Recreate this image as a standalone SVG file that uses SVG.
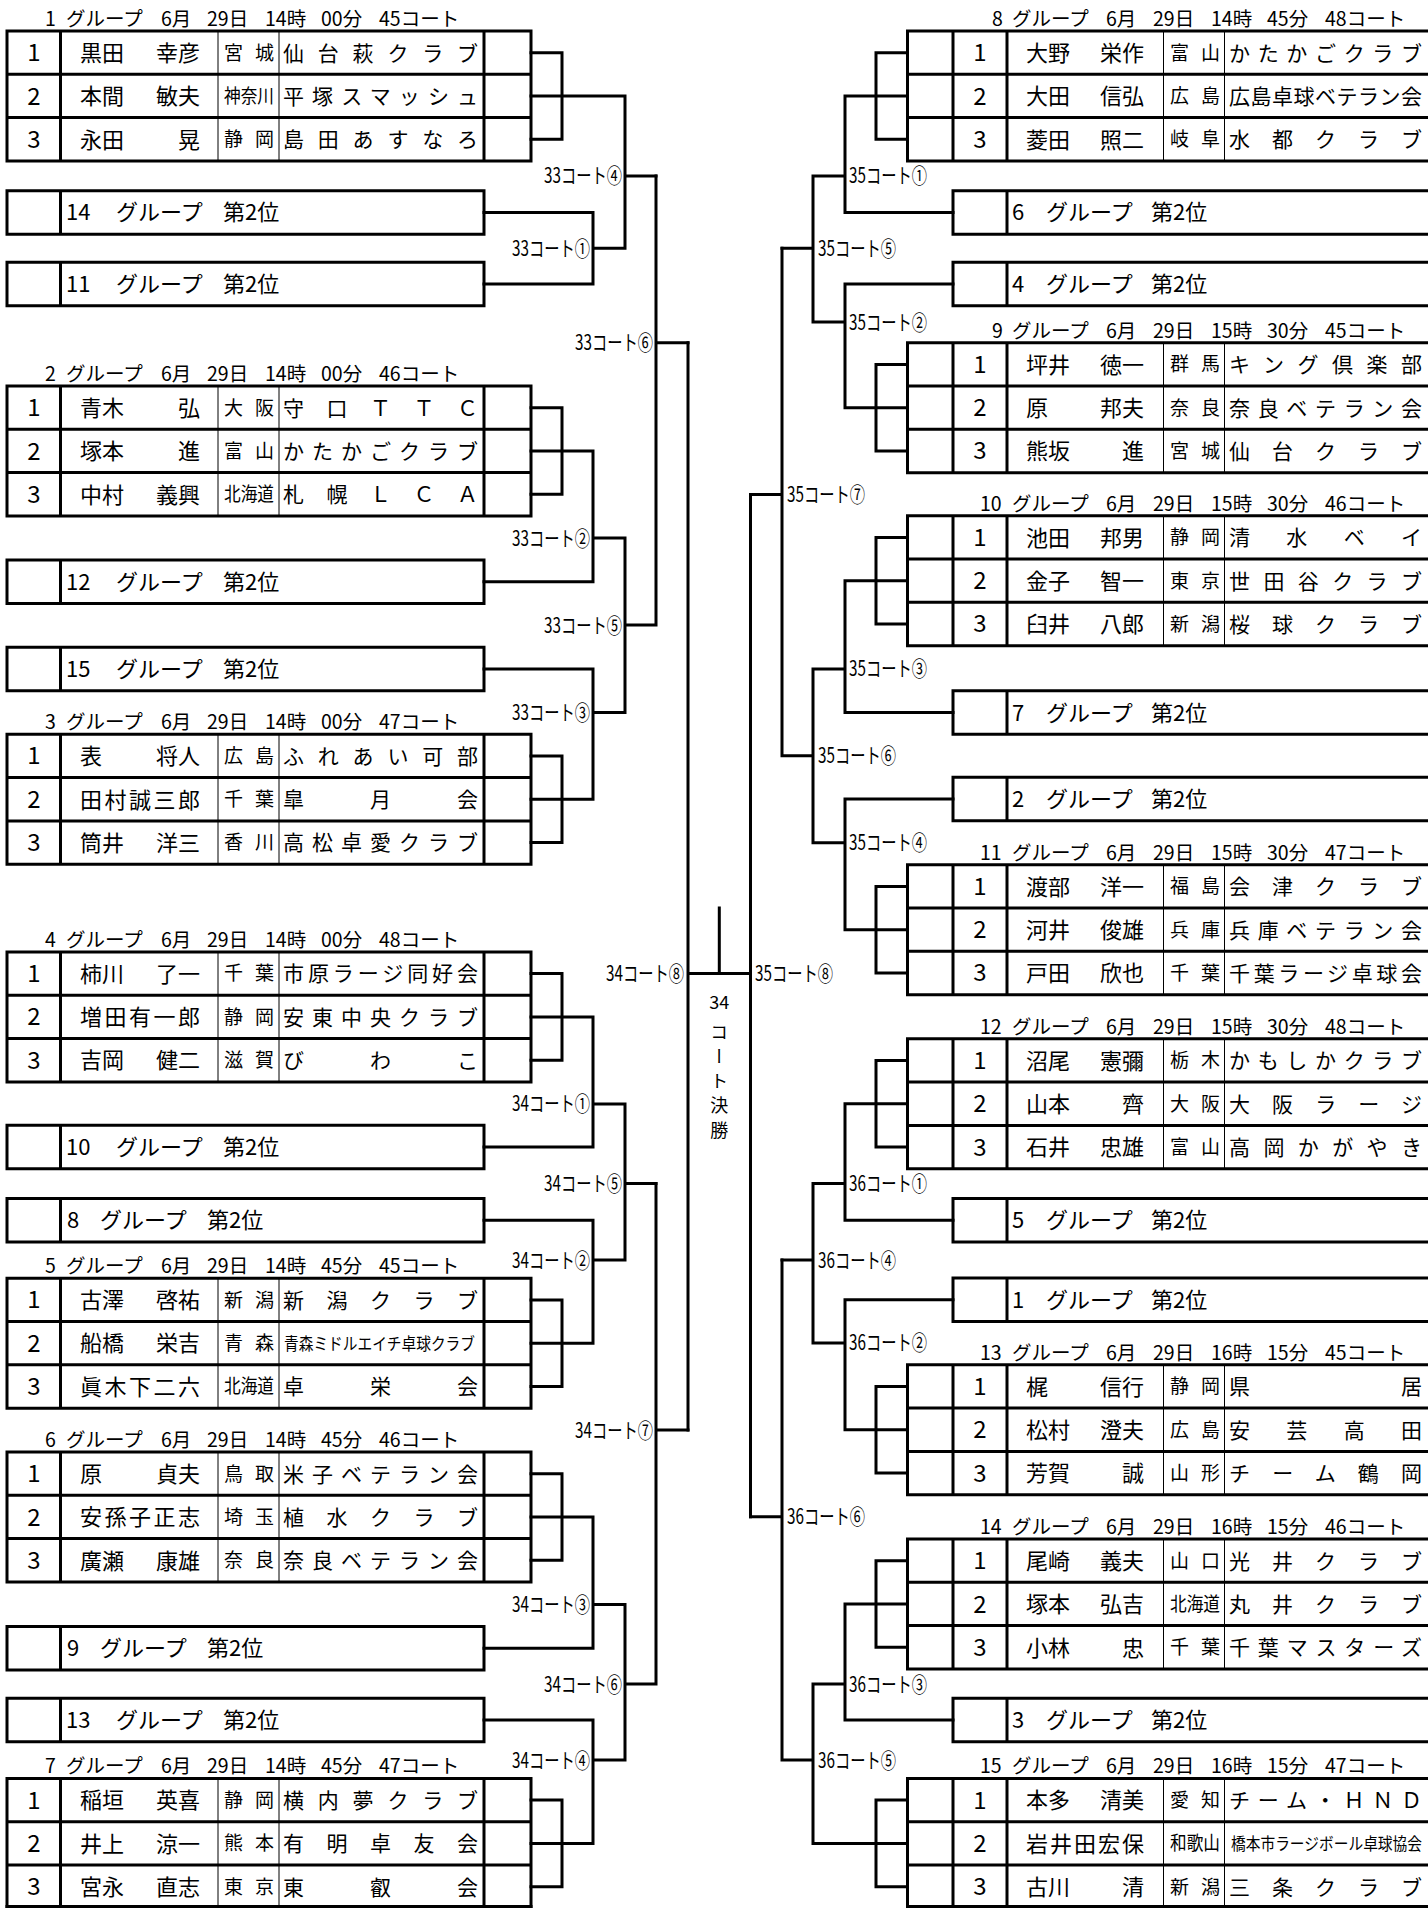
<svg xmlns="http://www.w3.org/2000/svg" width="1428" height="1908" viewBox="0 0 1428 1908">
<style>
.tk{fill:none;stroke:#000;stroke-width:3;stroke-linecap:square}
.tn{fill:none;stroke:#000;stroke-width:1}
#connectors path{fill:none;stroke:#000;stroke-width:3;stroke-linecap:square;stroke-linejoin:miter}
text{font-family:"Noto Sans CJK JP","Noto Sans",sans-serif;fill:#000}
.no{font-size:24px;text-anchor:middle}
.nm{font-size:22px}
.e{text-anchor:end}
.pf{font-size:19px}
.cl{font-size:21px}
.sm{font-size:17px}
.hd{font-size:19.5px}
.bx{font-size:22px}
.lb{font-size:21px}
.fin{font-size:18px}
</style>
<defs>
<g id="tl"><path class="tk" d="M7 0H531M7 43.3H531M7 86.6H531M7 130H531M7 0V130M60.5 0V130M484 0V130M531 0V130"/><path class="tn" d="M218 0V130M279 0V130"/></g>
<g id="tr"><path class="tk" d="M907.5 0H1440M907.5 43.3H1440M907.5 86.6H1440M907.5 130H1440M907.5 0V130M953 0V130M1007 0V130"/><path class="tn" d="M1163.5 0V130M1224.5 0V130"/></g>
<path id="bl" class="tk" d="M7 0H484V43.5H7ZM60.5 0V43.5"/>
<path id="br" class="tk" d="M953 0H1440M953 43.5H1440M953 0V43.5M1007 0V43.5"/>
</defs>
<rect width="1428" height="1908" fill="#fff"/>

<!-- LEFT GROUPS -->
<g id="group1" transform="translate(0,31)">
<use href="#tl"/>
<text class="hd" y="-5"><tspan x="45">1</tspan><tspan x="66">グループ</tspan><tspan x="161">6月</tspan><tspan x="207">29日</tspan><tspan x="265">14時</tspan><tspan x="321">00分</tspan><tspan x="379">45コート</tspan></text>
<text class="no" x="33.8" y="30.2">1</text><text class="nm" x="80" y="30">黒田</text><text class="nm e" x="200" y="30">幸彦</text><text class="pf" x="224" y="28.6" textLength="50">宮城</text><text class="cl" x="283" y="29.6" textLength="195">仙台萩クラブ</text>
<text class="no" x="33.8" y="73.5">2</text><text class="nm" x="80" y="73.3">本間</text><text class="nm e" x="200" y="73.3">敏夫</text><text class="pf" x="224" y="71.9" textLength="50" lengthAdjust="spacingAndGlyphs">神奈川</text><text class="cl" x="283" y="72.9" textLength="195">平塚スマッシュ</text>
<text class="no" x="33.8" y="116.8">3</text><text class="nm" x="80" y="116.6">永田</text><text class="nm e" x="200" y="116.6">晃</text><text class="pf" x="224" y="115.2" textLength="50">静岡</text><text class="cl" x="283" y="116.2" textLength="195">島田あすなろ</text>
</g>
<g id="box14" transform="translate(0,190.7)"><use href="#bl"/><text class="bx" y="29.8"><tspan x="66">14</tspan><tspan x="116">グループ</tspan><tspan x="223">第2位</tspan></text></g>
<g id="box11" transform="translate(0,262.2)"><use href="#bl"/><text class="bx" y="29.8"><tspan x="66">11</tspan><tspan x="116">グループ</tspan><tspan x="223">第2位</tspan></text></g>

<g id="group2" transform="translate(0,386)">
<use href="#tl"/>
<text class="hd" y="-5"><tspan x="45">2</tspan><tspan x="66">グループ</tspan><tspan x="161">6月</tspan><tspan x="207">29日</tspan><tspan x="265">14時</tspan><tspan x="321">00分</tspan><tspan x="379">46コート</tspan></text>
<text class="no" x="33.8" y="30.2">1</text><text class="nm" x="80" y="30">青木</text><text class="nm e" x="200" y="30">弘</text><text class="pf" x="224" y="28.6" textLength="50">大阪</text><text class="cl" x="283" y="29.6" textLength="195">守口ＴＴＣ</text>
<text class="no" x="33.8" y="73.5">2</text><text class="nm" x="80" y="73.3">塚本</text><text class="nm e" x="200" y="73.3">進</text><text class="pf" x="224" y="71.9" textLength="50">富山</text><text class="cl" x="283" y="72.9" textLength="195">かたかごクラブ</text>
<text class="no" x="33.8" y="116.8">3</text><text class="nm" x="80" y="116.6">中村</text><text class="nm e" x="200" y="116.6">義興</text><text class="pf" x="224" y="115.2" textLength="50" lengthAdjust="spacingAndGlyphs">北海道</text><text class="cl" x="283" y="116.2" textLength="195">札幌ＬＣＡ</text>
</g>
<g id="box12" transform="translate(0,560)"><use href="#bl"/><text class="bx" y="29.8"><tspan x="66">12</tspan><tspan x="116">グループ</tspan><tspan x="223">第2位</tspan></text></g>
<g id="box15" transform="translate(0,647.2)"><use href="#bl"/><text class="bx" y="29.8"><tspan x="66">15</tspan><tspan x="116">グループ</tspan><tspan x="223">第2位</tspan></text></g>

<g id="group3" transform="translate(0,734.3)">
<use href="#tl"/>
<text class="hd" y="-5"><tspan x="45">3</tspan><tspan x="66">グループ</tspan><tspan x="161">6月</tspan><tspan x="207">29日</tspan><tspan x="265">14時</tspan><tspan x="321">00分</tspan><tspan x="379">47コート</tspan></text>
<text class="no" x="33.8" y="30.2">1</text><text class="nm" x="80" y="30">表</text><text class="nm e" x="200" y="30">将人</text><text class="pf" x="224" y="28.6" textLength="50">広島</text><text class="cl" x="283" y="29.6" textLength="195">ふれあい可部</text>
<text class="no" x="33.8" y="73.5">2</text><text class="nm" x="80" y="73.3" textLength="120">田村誠三郎</text><text class="pf" x="224" y="71.9" textLength="50">千葉</text><text class="cl" x="283" y="72.9" textLength="195">皐月会</text>
<text class="no" x="33.8" y="116.8">3</text><text class="nm" x="80" y="116.6">筒井</text><text class="nm e" x="200" y="116.6">洋三</text><text class="pf" x="224" y="115.2" textLength="50">香川</text><text class="cl" x="283" y="116.2" textLength="195">高松卓愛クラブ</text>
</g>

<g id="group4" transform="translate(0,951.9)">
<use href="#tl"/>
<text class="hd" y="-5"><tspan x="45">4</tspan><tspan x="66">グループ</tspan><tspan x="161">6月</tspan><tspan x="207">29日</tspan><tspan x="265">14時</tspan><tspan x="321">00分</tspan><tspan x="379">48コート</tspan></text>
<text class="no" x="33.8" y="30.2">1</text><text class="nm" x="80" y="30">柿川</text><text class="nm e" x="200" y="30">了一</text><text class="pf" x="224" y="28.6" textLength="50">千葉</text><text class="cl" x="283" y="29.6" textLength="195">市原ラージ同好会</text>
<text class="no" x="33.8" y="73.5">2</text><text class="nm" x="80" y="73.3" textLength="120">増田有一郎</text><text class="pf" x="224" y="71.9" textLength="50">静岡</text><text class="cl" x="283" y="72.9" textLength="195">安東中央クラブ</text>
<text class="no" x="33.8" y="116.8">3</text><text class="nm" x="80" y="116.6">吉岡</text><text class="nm e" x="200" y="116.6">健二</text><text class="pf" x="224" y="115.2" textLength="50">滋賀</text><text class="cl" x="283" y="116.2" textLength="195">びわこ</text>
</g>
<g id="box10" transform="translate(0,1125.3)"><use href="#bl"/><text class="bx" y="29.8"><tspan x="66">10</tspan><tspan x="116">グループ</tspan><tspan x="223">第2位</tspan></text></g>
<g id="box8" transform="translate(0,1198.5)"><use href="#bl"/><text class="bx" y="29.8"><tspan x="67">8</tspan><tspan x="100">グループ</tspan><tspan x="207">第2位</tspan></text></g>

<g id="group5" transform="translate(0,1278.2)">
<use href="#tl"/>
<text class="hd" y="-5"><tspan x="45">5</tspan><tspan x="66">グループ</tspan><tspan x="161">6月</tspan><tspan x="207">29日</tspan><tspan x="265">14時</tspan><tspan x="321">45分</tspan><tspan x="379">45コート</tspan></text>
<text class="no" x="33.8" y="30.2">1</text><text class="nm" x="80" y="30">古澤</text><text class="nm e" x="200" y="30">啓祐</text><text class="pf" x="224" y="28.6" textLength="50">新潟</text><text class="cl" x="283" y="29.6" textLength="195">新潟クラブ</text>
<text class="no" x="33.8" y="73.5">2</text><text class="nm" x="80" y="73.3">船橋</text><text class="nm e" x="200" y="73.3">栄吉</text><text class="pf" x="224" y="71.9" textLength="50">青森</text><text class="sm" x="284" y="71.8" textLength="191" lengthAdjust="spacingAndGlyphs">青森ミドルエイチ卓球クラブ</text>
<text class="no" x="33.8" y="116.8">3</text><text class="nm" x="80" y="116.6" textLength="120">眞木下二六</text><text class="pf" x="224" y="115.2" textLength="50" lengthAdjust="spacingAndGlyphs">北海道</text><text class="cl" x="283" y="116.2" textLength="195">卓栄会</text>
</g>

<g id="group6" transform="translate(0,1452)">
<use href="#tl"/>
<text class="hd" y="-5"><tspan x="45">6</tspan><tspan x="66">グループ</tspan><tspan x="161">6月</tspan><tspan x="207">29日</tspan><tspan x="265">14時</tspan><tspan x="321">45分</tspan><tspan x="379">46コート</tspan></text>
<text class="no" x="33.8" y="30.2">1</text><text class="nm" x="80" y="30">原</text><text class="nm e" x="200" y="30">貞夫</text><text class="pf" x="224" y="28.6" textLength="50">鳥取</text><text class="cl" x="283" y="29.6" textLength="195">米子ベテラン会</text>
<text class="no" x="33.8" y="73.5">2</text><text class="nm" x="80" y="73.3" textLength="120">安孫子正志</text><text class="pf" x="224" y="71.9" textLength="50">埼玉</text><text class="cl" x="283" y="72.9" textLength="195">植水クラブ</text>
<text class="no" x="33.8" y="116.8">3</text><text class="nm" x="80" y="116.6">廣瀬</text><text class="nm e" x="200" y="116.6">康雄</text><text class="pf" x="224" y="115.2" textLength="50">奈良</text><text class="cl" x="283" y="116.2" textLength="195">奈良ベテラン会</text>
</g>
<g id="box9" transform="translate(0,1626.5)"><use href="#bl"/><text class="bx" y="29.8"><tspan x="67">9</tspan><tspan x="100">グループ</tspan><tspan x="207">第2位</tspan></text></g>
<g id="box13" transform="translate(0,1698.2)"><use href="#bl"/><text class="bx" y="29.8"><tspan x="66">13</tspan><tspan x="116">グループ</tspan><tspan x="223">第2位</tspan></text></g>

<g id="group7" transform="translate(0,1778.4)">
<use href="#tl"/>
<path class="tk" d="M7 128.1H531"/>
<text class="hd" y="-5"><tspan x="45">7</tspan><tspan x="66">グループ</tspan><tspan x="161">6月</tspan><tspan x="207">29日</tspan><tspan x="265">14時</tspan><tspan x="321">45分</tspan><tspan x="379">47コート</tspan></text>
<text class="no" x="33.8" y="30.2">1</text><text class="nm" x="80" y="30">稲垣</text><text class="nm e" x="200" y="30">英喜</text><text class="pf" x="224" y="28.6" textLength="50">静岡</text><text class="cl" x="283" y="29.6" textLength="195">横内夢クラブ</text>
<text class="no" x="33.8" y="73.5">2</text><text class="nm" x="80" y="73.3">井上</text><text class="nm e" x="200" y="73.3">涼一</text><text class="pf" x="224" y="71.9" textLength="50">熊本</text><text class="cl" x="283" y="72.9" textLength="195">有明卓友会</text>
<text class="no" x="33.8" y="116.8">3</text><text class="nm" x="80" y="116.6">宮永</text><text class="nm e" x="200" y="116.6">直志</text><text class="pf" x="224" y="115.2" textLength="50">東京</text><text class="cl" x="283" y="116.2" textLength="195">東叡会</text>
</g>

<!-- RIGHT GROUPS -->
<g id="group8" transform="translate(0,31)">
<use href="#tr"/>
<text class="hd" y="-5"><tspan x="992">8</tspan><tspan x="1012">グループ</tspan><tspan x="1106">6月</tspan><tspan x="1153">29日</tspan><tspan x="1211">14時</tspan><tspan x="1267">45分</tspan><tspan x="1325">48コート</tspan></text>
<text class="no" x="980" y="30.2">1</text><text class="nm" x="1026" y="30">大野</text><text class="nm e" x="1144" y="30">栄作</text><text class="pf" x="1170" y="28.6" textLength="50">富山</text><text class="cl" x="1229" y="29.6" textLength="193">かたかごクラブ</text>
<text class="no" x="980" y="73.5">2</text><text class="nm" x="1026" y="73.3">大田</text><text class="nm e" x="1144" y="73.3">信弘</text><text class="pf" x="1170" y="71.9" textLength="50">広島</text><text class="cl" x="1229" y="72.9" textLength="193">広島卓球ベテラン会</text>
<text class="no" x="980" y="116.8">3</text><text class="nm" x="1026" y="116.6">菱田</text><text class="nm e" x="1144" y="116.6">照二</text><text class="pf" x="1170" y="115.2" textLength="50">岐阜</text><text class="cl" x="1229" y="116.2" textLength="193">水都クラブ</text>
</g>
<g id="box6" transform="translate(0,190.7)"><use href="#br"/><text class="bx" y="29.8"><tspan x="1012">6</tspan><tspan x="1046">グループ</tspan><tspan x="1151">第2位</tspan></text></g>
<g id="box4" transform="translate(0,262.2)"><use href="#br"/><text class="bx" y="29.8"><tspan x="1012">4</tspan><tspan x="1046">グループ</tspan><tspan x="1151">第2位</tspan></text></g>

<g id="group9" transform="translate(0,342.7)">
<use href="#tr"/>
<text class="hd" y="-5"><tspan x="992">9</tspan><tspan x="1012">グループ</tspan><tspan x="1106">6月</tspan><tspan x="1153">29日</tspan><tspan x="1211">15時</tspan><tspan x="1267">30分</tspan><tspan x="1325">45コート</tspan></text>
<text class="no" x="980" y="30.2">1</text><text class="nm" x="1026" y="30">坪井</text><text class="nm e" x="1144" y="30">徳一</text><text class="pf" x="1170" y="28.6" textLength="50">群馬</text><text class="cl" x="1229" y="29.6" textLength="193">キング倶楽部</text>
<text class="no" x="980" y="73.5">2</text><text class="nm" x="1026" y="73.3">原</text><text class="nm e" x="1144" y="73.3">邦夫</text><text class="pf" x="1170" y="71.9" textLength="50">奈良</text><text class="cl" x="1229" y="72.9" textLength="193">奈良ベテラン会</text>
<text class="no" x="980" y="116.8">3</text><text class="nm" x="1026" y="116.6">熊坂</text><text class="nm e" x="1144" y="116.6">進</text><text class="pf" x="1170" y="115.2" textLength="50">宮城</text><text class="cl" x="1229" y="116.2" textLength="193">仙台クラブ</text>
</g>

<g id="group10" transform="translate(0,515.7)">
<use href="#tr"/>
<text class="hd" y="-5"><tspan x="980">10</tspan><tspan x="1012">グループ</tspan><tspan x="1106">6月</tspan><tspan x="1153">29日</tspan><tspan x="1211">15時</tspan><tspan x="1267">30分</tspan><tspan x="1325">46コート</tspan></text>
<text class="no" x="980" y="30.2">1</text><text class="nm" x="1026" y="30">池田</text><text class="nm e" x="1144" y="30">邦男</text><text class="pf" x="1170" y="28.6" textLength="50">静岡</text><text class="cl" x="1229" y="29.6" textLength="193">清水ベイ</text>
<text class="no" x="980" y="73.5">2</text><text class="nm" x="1026" y="73.3">金子</text><text class="nm e" x="1144" y="73.3">智一</text><text class="pf" x="1170" y="71.9" textLength="50">東京</text><text class="cl" x="1229" y="72.9" textLength="193">世田谷クラブ</text>
<text class="no" x="980" y="116.8">3</text><text class="nm" x="1026" y="116.6">臼井</text><text class="nm e" x="1144" y="116.6">八郎</text><text class="pf" x="1170" y="115.2" textLength="50">新潟</text><text class="cl" x="1229" y="116.2" textLength="193">桜球クラブ</text>
</g>
<g id="box7" transform="translate(0,690.8)"><use href="#br"/><text class="bx" y="29.8"><tspan x="1012">7</tspan><tspan x="1046">グループ</tspan><tspan x="1151">第2位</tspan></text></g>
<g id="box2" transform="translate(0,777.2)"><use href="#br"/><text class="bx" y="29.8"><tspan x="1012">2</tspan><tspan x="1046">グループ</tspan><tspan x="1151">第2位</tspan></text></g>

<g id="group11" transform="translate(0,864.7)">
<use href="#tr"/>
<text class="hd" y="-5"><tspan x="980">11</tspan><tspan x="1012">グループ</tspan><tspan x="1106">6月</tspan><tspan x="1153">29日</tspan><tspan x="1211">15時</tspan><tspan x="1267">30分</tspan><tspan x="1325">47コート</tspan></text>
<text class="no" x="980" y="30.2">1</text><text class="nm" x="1026" y="30">渡部</text><text class="nm e" x="1144" y="30">洋一</text><text class="pf" x="1170" y="28.6" textLength="50">福島</text><text class="cl" x="1229" y="29.6" textLength="193">会津クラブ</text>
<text class="no" x="980" y="73.5">2</text><text class="nm" x="1026" y="73.3">河井</text><text class="nm e" x="1144" y="73.3">俊雄</text><text class="pf" x="1170" y="71.9" textLength="50">兵庫</text><text class="cl" x="1229" y="72.9" textLength="193">兵庫ベテラン会</text>
<text class="no" x="980" y="116.8">3</text><text class="nm" x="1026" y="116.6">戸田</text><text class="nm e" x="1144" y="116.6">欣也</text><text class="pf" x="1170" y="115.2" textLength="50">千葉</text><text class="cl" x="1229" y="116.2" textLength="193">千葉ラージ卓球会</text>
</g>

<g id="group12" transform="translate(0,1038.8)">
<use href="#tr"/>
<text class="hd" y="-5"><tspan x="980">12</tspan><tspan x="1012">グループ</tspan><tspan x="1106">6月</tspan><tspan x="1153">29日</tspan><tspan x="1211">15時</tspan><tspan x="1267">30分</tspan><tspan x="1325">48コート</tspan></text>
<text class="no" x="980" y="30.2">1</text><text class="nm" x="1026" y="30">沼尾</text><text class="nm e" x="1144" y="30">憲彌</text><text class="pf" x="1170" y="28.6" textLength="50">栃木</text><text class="cl" x="1229" y="29.6" textLength="193">かもしかクラブ</text>
<text class="no" x="980" y="73.5">2</text><text class="nm" x="1026" y="73.3">山本</text><text class="nm e" x="1144" y="73.3">齊</text><text class="pf" x="1170" y="71.9" textLength="50">大阪</text><text class="cl" x="1229" y="72.9" textLength="193">大阪ラージ</text>
<text class="no" x="980" y="116.8">3</text><text class="nm" x="1026" y="116.6">石井</text><text class="nm e" x="1144" y="116.6">忠雄</text><text class="pf" x="1170" y="115.2" textLength="50">富山</text><text class="cl" x="1229" y="116.2" textLength="193">高岡かがやき</text>
</g>
<g id="box5" transform="translate(0,1198.5)"><use href="#br"/><text class="bx" y="29.8"><tspan x="1012">5</tspan><tspan x="1046">グループ</tspan><tspan x="1151">第2位</tspan></text></g>
<g id="box1" transform="translate(0,1278)"><use href="#br"/><text class="bx" y="29.8"><tspan x="1012">1</tspan><tspan x="1046">グループ</tspan><tspan x="1151">第2位</tspan></text></g>

<g id="group13" transform="translate(0,1364.8)">
<use href="#tr"/>
<text class="hd" y="-5"><tspan x="980">13</tspan><tspan x="1012">グループ</tspan><tspan x="1106">6月</tspan><tspan x="1153">29日</tspan><tspan x="1211">16時</tspan><tspan x="1267">15分</tspan><tspan x="1325">45コート</tspan></text>
<text class="no" x="980" y="30.2">1</text><text class="nm" x="1026" y="30">梶</text><text class="nm e" x="1144" y="30">信行</text><text class="pf" x="1170" y="28.6" textLength="50">静岡</text><text class="cl" x="1229" y="29.6" textLength="193">県居</text>
<text class="no" x="980" y="73.5">2</text><text class="nm" x="1026" y="73.3">松村</text><text class="nm e" x="1144" y="73.3">澄夫</text><text class="pf" x="1170" y="71.9" textLength="50">広島</text><text class="cl" x="1229" y="72.9" textLength="193">安芸高田</text>
<text class="no" x="980" y="116.8">3</text><text class="nm" x="1026" y="116.6">芳賀</text><text class="nm e" x="1144" y="116.6">誠</text><text class="pf" x="1170" y="115.2" textLength="50">山形</text><text class="cl" x="1229" y="116.2" textLength="193">チーム鶴岡</text>
</g>

<g id="group14" transform="translate(0,1539)">
<use href="#tr"/>
<text class="hd" y="-5"><tspan x="980">14</tspan><tspan x="1012">グループ</tspan><tspan x="1106">6月</tspan><tspan x="1153">29日</tspan><tspan x="1211">16時</tspan><tspan x="1267">15分</tspan><tspan x="1325">46コート</tspan></text>
<text class="no" x="980" y="30.2">1</text><text class="nm" x="1026" y="30">尾崎</text><text class="nm e" x="1144" y="30">義夫</text><text class="pf" x="1170" y="28.6" textLength="50">山口</text><text class="cl" x="1229" y="29.6" textLength="193">光井クラブ</text>
<text class="no" x="980" y="73.5">2</text><text class="nm" x="1026" y="73.3">塚本</text><text class="nm e" x="1144" y="73.3">弘吉</text><text class="pf" x="1170" y="71.9" textLength="50" lengthAdjust="spacingAndGlyphs">北海道</text><text class="cl" x="1229" y="72.9" textLength="193">丸井クラブ</text>
<text class="no" x="980" y="116.8">3</text><text class="nm" x="1026" y="116.6">小林</text><text class="nm e" x="1144" y="116.6">忠</text><text class="pf" x="1170" y="115.2" textLength="50">千葉</text><text class="cl" x="1229" y="116.2" textLength="193">千葉マスターズ</text>
</g>
<g id="box3" transform="translate(0,1698.2)"><use href="#br"/><text class="bx" y="29.8"><tspan x="1012">3</tspan><tspan x="1046">グループ</tspan><tspan x="1151">第2位</tspan></text></g>

<g id="group15" transform="translate(0,1778.4)">
<use href="#tr"/>
<path class="tk" d="M907.5 128.1H1440"/>
<text class="hd" y="-5"><tspan x="980">15</tspan><tspan x="1012">グループ</tspan><tspan x="1106">6月</tspan><tspan x="1153">29日</tspan><tspan x="1211">16時</tspan><tspan x="1267">15分</tspan><tspan x="1325">47コート</tspan></text>
<text class="no" x="980" y="30.2">1</text><text class="nm" x="1026" y="30">本多</text><text class="nm e" x="1144" y="30">清美</text><text class="pf" x="1170" y="28.6" textLength="50">愛知</text><text class="cl" x="1229" y="29.6" textLength="193">チーム・ＨＮＤ</text>
<text class="no" x="980" y="73.5">2</text><text class="nm" x="1026" y="73.3" textLength="118">岩井田宏保</text><text class="pf" x="1170" y="71.9" textLength="50" lengthAdjust="spacingAndGlyphs">和歌山</text><text class="sm" x="1231" y="71.8" textLength="191" lengthAdjust="spacingAndGlyphs">橋本市ラージボール卓球協会</text>
<text class="no" x="980" y="116.8">3</text><text class="nm" x="1026" y="116.6">古川</text><text class="nm e" x="1144" y="116.6">清</text><text class="pf" x="1170" y="115.2" textLength="50">新潟</text><text class="cl" x="1229" y="116.2" textLength="193">三条クラブ</text>
</g>

<!-- CONNECTORS -->
<g id="connectors">
<path d="M531 52.7H562V139.3H531M531 96H625M484 212.5H593V284H484M593 248.2H625M625 96V248.2M625 175.9H656"/>
<path d="M531 407.7H562V494.3H531M531 451H593V581.8H484M593 538H625M484 669H593V799.3H531M531 756H562V842.6H531M593 712.5H625M625 538V712.5M625 625.1H656M656 175.9V625.1M656 342.7H688"/>
<path d="M531 973.6H562V1060.2H531M531 1016.9H593V1147H484M593 1103.9H625M484 1220.3H593V1343.2H531M531 1299.9H562V1386.5H531M593 1260H625M625 1103.9V1260M625 1183.5H656"/>
<path d="M531 1473.7H562V1560.3H531M531 1517H593V1648.3H484M593 1604.4H625M484 1720H593V1843.4H531M531 1800H562V1886.7H531M593 1760H625M625 1604.4V1760M625 1684H656M656 1183.5V1684M656 1430H688"/>
<path d="M688 342.7V1430M688 973.5H750.5M719.3 908V973.5M750.5 494.4V1516.8"/>
<path d="M907.5 52.7H876V139.3H907.5M907.5 96H845V212.5H953M845 175.9H813M953 284H845V407.7H907.5M907.5 364.4H876V451H907.5M845 322H813M813 175.9V322M813 248.2H782"/>
<path d="M907.5 537.4H876V624H907.5M907.5 580.7H845V712.6H953M845 668.9H813M953 799H845V929.7H907.5M907.5 886.4H876V973H907.5M845 842.8H813M813 668.9V842.8M813 755.7H782M782 248.2V755.7M782 494.4H750.5"/>
<path d="M907.5 1060.5H876V1147.1H907.5M907.5 1103.8H845V1220.3H953M845 1183.5H813M953 1299.8H845V1429.8H907.5M907.5 1386.5H876V1473.1H907.5M845 1342.9H813M813 1183.5V1342.9M813 1260H782"/>
<path d="M907.5 1560.7H876V1647.3H907.5M907.5 1604H845V1720H953M845 1684H813M907.5 1800H876V1886.7H907.5M907.5 1843.4H813V1684M813 1760H782M782 1260V1760M782 1516.8H750.5"/>
</g>

<!-- MATCH LABELS -->
<g id="labels">
<text class="lb" x="622" y="183.4" text-anchor="end" textLength="78" lengthAdjust="spacingAndGlyphs">33コート④</text>
<text class="lb" x="590" y="255.7" text-anchor="end" textLength="78" lengthAdjust="spacingAndGlyphs">33コート①</text>
<text class="lb" x="653" y="350.2" text-anchor="end" textLength="78" lengthAdjust="spacingAndGlyphs">33コート⑥</text>
<text class="lb" x="590" y="545.5" text-anchor="end" textLength="78" lengthAdjust="spacingAndGlyphs">33コート②</text>
<text class="lb" x="622" y="632.6" text-anchor="end" textLength="78" lengthAdjust="spacingAndGlyphs">33コート⑤</text>
<text class="lb" x="590" y="720" text-anchor="end" textLength="78" lengthAdjust="spacingAndGlyphs">33コート③</text>
<text class="lb" x="684" y="981" text-anchor="end" textLength="78" lengthAdjust="spacingAndGlyphs">34コート⑧</text>
<text class="lb" x="590" y="1111.4" text-anchor="end" textLength="78" lengthAdjust="spacingAndGlyphs">34コート①</text>
<text class="lb" x="622" y="1191" text-anchor="end" textLength="78" lengthAdjust="spacingAndGlyphs">34コート⑤</text>
<text class="lb" x="590" y="1267.5" text-anchor="end" textLength="78" lengthAdjust="spacingAndGlyphs">34コート②</text>
<text class="lb" x="653" y="1437.5" text-anchor="end" textLength="78" lengthAdjust="spacingAndGlyphs">34コート⑦</text>
<text class="lb" x="590" y="1611.9" text-anchor="end" textLength="78" lengthAdjust="spacingAndGlyphs">34コート③</text>
<text class="lb" x="622" y="1691.5" text-anchor="end" textLength="78" lengthAdjust="spacingAndGlyphs">34コート⑥</text>
<text class="lb" x="590" y="1767.5" text-anchor="end" textLength="78" lengthAdjust="spacingAndGlyphs">34コート④</text>
<text class="lb" x="849" y="183.4" textLength="78" lengthAdjust="spacingAndGlyphs">35コート①</text>
<text class="lb" x="818" y="255.7" textLength="78" lengthAdjust="spacingAndGlyphs">35コート⑤</text>
<text class="lb" x="849" y="329.5" textLength="78" lengthAdjust="spacingAndGlyphs">35コート②</text>
<text class="lb" x="787" y="501.9" textLength="78" lengthAdjust="spacingAndGlyphs">35コート⑦</text>
<text class="lb" x="849" y="676.4" textLength="78" lengthAdjust="spacingAndGlyphs">35コート③</text>
<text class="lb" x="818" y="763.2" textLength="78" lengthAdjust="spacingAndGlyphs">35コート⑥</text>
<text class="lb" x="849" y="850.3" textLength="78" lengthAdjust="spacingAndGlyphs">35コート④</text>
<text class="lb" x="755" y="981" textLength="78" lengthAdjust="spacingAndGlyphs">35コート⑧</text>
<text class="lb" x="849" y="1191" textLength="78" lengthAdjust="spacingAndGlyphs">36コート①</text>
<text class="lb" x="818" y="1267.5" textLength="78" lengthAdjust="spacingAndGlyphs">36コート④</text>
<text class="lb" x="849" y="1350.4" textLength="78" lengthAdjust="spacingAndGlyphs">36コート②</text>
<text class="lb" x="787" y="1524.3" textLength="78" lengthAdjust="spacingAndGlyphs">36コート⑥</text>
<text class="lb" x="849" y="1691.5" textLength="78" lengthAdjust="spacingAndGlyphs">36コート③</text>
<text class="lb" x="818" y="1767.5" textLength="78" lengthAdjust="spacingAndGlyphs">36コート⑤</text>
</g>

<g id="final">
<text class="fin" x="719.3" y="1009" text-anchor="middle">34</text>
<text class="fin" x="719.3" y="1023" style="writing-mode:vertical-rl;letter-spacing:6.5px">コート決勝</text>
</g>
</svg>
